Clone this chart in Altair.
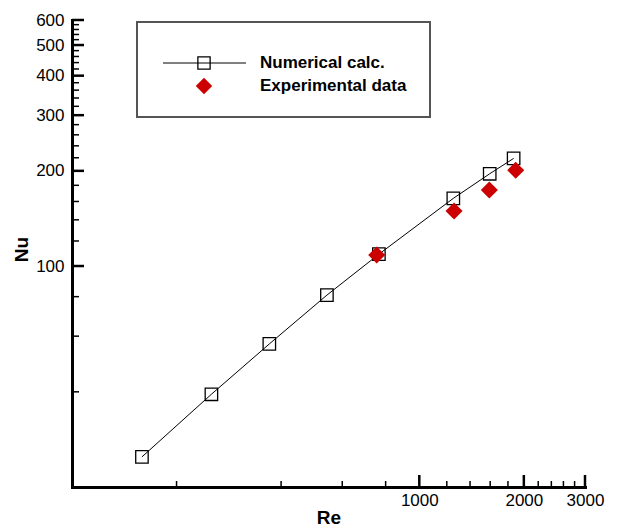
import altair as alt
import pandas as pd

# Data
re_num = [159, 252, 370, 542, 765, 1253, 1595, 1869]
nu_num = [24.9, 39.3, 56.7, 80.9, 109, 163.7, 195.8, 219]
re_exp = [754, 1259, 1591, 1895]
nu_exp = [108.3, 149.2, 174, 201]
series = ["Numerical calc.", "Experimental data"]

x_major = [1000, 2000, 3000]
x_minor = [200, 400, 600, 800, 1200, 1400, 1600, 1800, 2200, 2400, 2600, 2800]
y_major = [100, 200, 300, 400, 500, 600]
y_minor = [40, 60, 80, 120, 140, 160, 180, 220, 240, 260, 280, 320, 340, 360, 380,
           420, 440, 460, 480, 520, 540, 560, 580]

W, H = 513, 467
FONT = "Liberation Sans"
RED = "#cc0000"

xs = alt.Scale(type="log", domain=[100, 3000], nice=False)
ys = alt.Scale(type="log", domain=[20, 600], nice=False)

xaxis = alt.Axis(values=x_major, format="d", title="Re", ticks=False, grid=False,
                 labelFontSize=17, labelPadding=5, labelFlush=False, labelOverlap=False,
                 titleFontSize=19, titleFontWeight="bold", titlePadding=0,
                 domainWidth=3, domainColor="black", domainCap="square",
                 labelColor="black", titleColor="black", labelFont=FONT, titleFont=FONT)
yaxis = alt.Axis(values=y_major, format="d", title="Nu", ticks=False, grid=False,
                 labelFontSize=17, labelPadding=8, labelOverlap=False,
                 titleFontSize=19, titleFontWeight="bold", titleX=-51, titleY=229,
                 titleBaseline="middle", titleAlign="center",
                 domainWidth=3, domainColor="black", domainCap="square",
                 labelColor="black", titleColor="black", labelFont=FONT, titleFont=FONT)

num_df = pd.DataFrame({"Re": re_num, "Nu": nu_num})
exp_df = pd.DataFrame({"Re": re_exp, "Nu": nu_exp})

X = alt.X("Re:Q", scale=xs, axis=xaxis)
Y = alt.Y("Nu:Q", scale=ys, axis=yaxis)

line = alt.Chart(num_df).mark_line(color="black", strokeWidth=1).encode(x=X, y=Y)
squares = alt.Chart(num_df).mark_point(shape="square", filled=False, color="black",
                                        size=155, strokeWidth=1.3, opacity=1).encode(x=X, y=Y)
diamonds = alt.Chart(exp_df).mark_point(shape="diamond", filled=True, color=RED,
                                         size=290, opacity=1).encode(x=X, y=Y)

# inward tick marks
xmaj = alt.Chart(pd.DataFrame({"Re": x_major})).mark_rule(color="black", strokeWidth=2.5).encode(
    x=X, y=alt.value(H), y2=alt.value(H - 12))
xmin = alt.Chart(pd.DataFrame({"Re": x_minor})).mark_rule(color="black", strokeWidth=1.5).encode(
    x=X, y=alt.value(H), y2=alt.value(H - 6))
ymaj = alt.Chart(pd.DataFrame({"Nu": y_major})).mark_rule(color="black", strokeWidth=2.5).encode(
    y=Y, x=alt.value(0), x2=alt.value(12))
ymin = alt.Chart(pd.DataFrame({"Nu": y_minor})).mark_rule(color="black", strokeWidth=1.5).encode(
    y=Y, x=alt.value(0), x2=alt.value(7))

# legend
one = pd.DataFrame({"k": [0]})
leg_box = alt.Chart(one).mark_rect(fill="white", stroke="#555555", strokeWidth=2).encode(
    x=alt.value(65), x2=alt.value(358), y=alt.value(2), y2=alt.value(97))
leg_line = alt.Chart(one).mark_rule(color="black", strokeWidth=1).encode(
    x=alt.value(91), x2=alt.value(174), y=alt.value(43))
leg_sq = alt.Chart(one).mark_point(shape="square", filled=False, color="black",
                                   size=150, strokeWidth=1.3, opacity=1).encode(
    x=alt.value(132), y=alt.value(43))
leg_dm = alt.Chart(one).mark_point(shape="diamond", filled=True, color=RED,
                                   size=270, opacity=1).encode(
    x=alt.value(132), y=alt.value(66))
leg_t1 = alt.Chart(pd.DataFrame({"name": [series[0]]})).mark_text(
    align="left", baseline="middle", fontSize=17, fontWeight="bold", font=FONT, color="black").encode(
    text="name:N", x=alt.value(188), y=alt.value(43))
leg_t2 = alt.Chart(pd.DataFrame({"name": [series[1]]})).mark_text(
    align="left", baseline="middle", fontSize=17, fontWeight="bold", font=FONT, color="black").encode(
    text="name:N", x=alt.value(188), y=alt.value(66))

chart = alt.layer(
    line, squares, diamonds, xmaj, xmin, ymaj, ymin,
    leg_box, leg_line, leg_sq, leg_dm, leg_t1, leg_t2
).properties(
    width=W, height=H,
    padding={"left": 64, "top": 12, "right": 22, "bottom": 40},
    autosize=alt.AutoSizeParams(type="none"),
    background="white",
).configure_view(stroke=None)

chart.save("out.html", embed_options={"renderer": "svg", "actions": False})
